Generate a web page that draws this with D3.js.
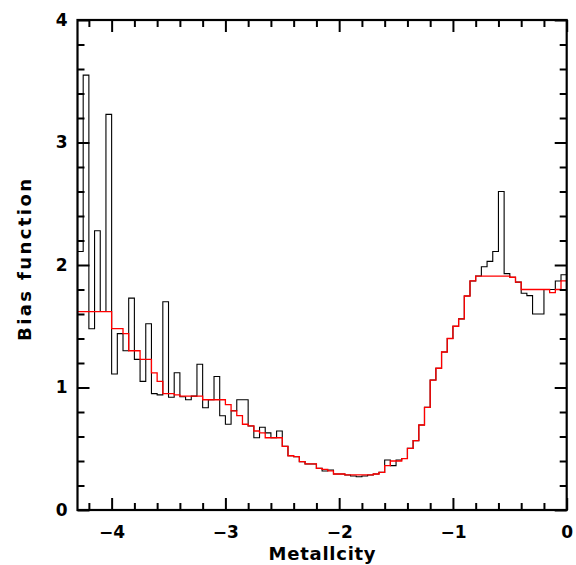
<!DOCTYPE html>
<html>
<head>
<meta charset="utf-8">
<script src="https://cdn.jsdelivr.net/npm/d3@7"></script>
<style>
  html, body { margin: 0; padding: 0; background: #fff; }
  svg { display: block; }
</style>
</head>
<body>
<svg id="chart" width="576" height="565"></svg>
<script>
// ---- data ----
const binStart = [
  -4.30,-4.25,-4.20,-4.15,-4.10,-4.05,-4.00,-3.95,-3.90,-3.85,
  -3.80,-3.75,-3.70,-3.65,-3.60,-3.55,-3.50,-3.45,-3.40,-3.35,
  -3.30,-3.25,-3.20,-3.15,-3.10,-3.05,-3.00,-2.95,-2.90,-2.85,
  -2.80,-2.75,-2.70,-2.65,-2.60,-2.55,-2.50,-2.45,-2.40,-2.35,
  -2.30,-2.25,-2.20,-2.15,-2.10,-2.05,-2.00,-1.95,-1.90,-1.85,
  -1.80,-1.75,-1.70,-1.65,-1.60,-1.55,-1.50,-1.45,-1.40,-1.35,
  -1.30,-1.25,-1.20,-1.15,-1.10,-1.05,-1.00,-0.95,-0.90,-0.85,
  -0.80,-0.75,-0.70,-0.65,-0.60,-0.55,-0.50,-0.45,-0.40,-0.35,
  -0.30,-0.25,-0.20,-0.15,-0.10,-0.05
];
const binEnd = 0;

const biasObserved = [
  2.11,3.55,1.48,2.28,1.62,3.23,1.11,1.44,1.30,1.73,
  1.23,1.05,1.52,0.95,0.94,1.70,0.92,1.12,0.925,0.90,
  0.93,1.19,0.835,0.90,1.09,0.77,0.70,0.81,0.90,0.90,
  0.686,0.59,0.675,0.63,0.59,0.645,0.52,0.443,0.435,0.395,
  0.376,0.376,0.34,0.318,0.327,0.294,0.294,0.286,0.278,0.272,
  0.278,0.286,0.294,0.307,0.408,0.362,0.408,0.42,0.503,0.566,
  0.694,0.838,1.061,1.157,1.29,1.40,1.50,1.56,1.747,1.87,
  1.91,1.986,2.03,2.11,2.60,1.93,1.90,1.86,1.77,1.75,
  1.60,1.60,1.80,1.80,1.87,1.92
];

const biasSmooth = [
  1.62,1.62,1.62,1.62,1.62,1.62,1.48,1.48,1.44,1.30,
  1.30,1.23,1.23,1.12,1.05,0.95,0.95,0.94,0.93,0.93,
  0.93,0.93,0.90,0.90,0.90,0.90,0.86,0.81,0.77,0.70,
  0.686,0.645,0.63,0.59,0.59,0.59,0.52,0.443,0.435,0.395,
  0.376,0.376,0.34,0.332,0.32,0.294,0.294,0.286,0.286,0.286,
  0.286,0.286,0.294,0.307,0.362,0.40,0.40,0.42,0.503,0.566,
  0.694,0.838,1.061,1.157,1.29,1.40,1.50,1.56,1.747,1.87,
  1.91,1.91,1.91,1.91,1.91,1.91,1.90,1.86,1.80,1.80,
  1.80,1.80,1.80,1.775,1.80,1.87
];

const xMajorTicks = [-4, -3, -2, -1, 0];
const xMinorTicks = [-4.2,-3.8,-3.6,-3.4,-3.2,-2.8,-2.6,-2.4,-2.2,-1.8,-1.6,-1.4,-1.2,-0.8,-0.6,-0.4,-0.2];
const yMajorTicks = [0, 1, 2, 3, 4];
const yMinorTicks = [0.2,0.4,0.6,0.8,1.2,1.4,1.6,1.8,2.2,2.4,2.6,2.8,3.2,3.4,3.6,3.8];
const xTitle = "Metallcity";
const yTitle = "Bias function";

// ---- layout ----
const L = 77.5, R = 566.7, T = 20, B = 510;
const svg = d3.select("#chart");
const x = d3.scaleLinear().domain([-4.3, 0]).range([L, R]);
const y = d3.scaleLinear().domain([0, 4]).range([B, T]);

const font = "'DejaVu Sans', sans-serif";
const fmt = d3.format("d");

// histogram step lines
function steps(vals) {
  const pts = binStart.map((s, i) => ({ x: s, v: vals[i] }));
  pts.push({ x: binEnd, v: vals[vals.length - 1] });
  return pts;
}
const line = d3.line().x(d => x(d.x)).y(d => y(d.v)).curve(d3.curveStepAfter);

svg.append("path").datum(steps(biasObserved))
  .attr("d", line).attr("fill", "none")
  .attr("stroke", "#000").attr("stroke-width", 1.1);

svg.append("path").datum(steps(biasSmooth))
  .attr("d", line).attr("fill", "none")
  .attr("stroke", "#ff0000").attr("stroke-width", 1.3);

// axes
function styleAxis(g) {
  g.select(".domain").remove();
  g.selectAll(".tick line").attr("stroke", "#000").attr("stroke-width", 2);
  g.selectAll(".tick text").attr("font-family", font).attr("font-weight", "bold")
    .attr("font-size", 17).attr("fill", "#000");
}
const MAJ = 12, MIN = 7;

// bottom
svg.append("g").attr("transform", `translate(0,${B})`)
  .call(d3.axisBottom(x).tickValues(xMajorTicks).tickSize(-MAJ).tickPadding(16).tickFormat(fmt))
  .call(styleAxis);
svg.append("g").attr("transform", `translate(0,${B})`)
  .call(d3.axisBottom(x).tickValues(xMinorTicks).tickSize(-MIN).tickFormat(""))
  .call(styleAxis);
// top
svg.append("g").attr("transform", `translate(0,${T})`)
  .call(d3.axisTop(x).tickValues(xMajorTicks).tickSize(-MAJ).tickFormat(""))
  .call(styleAxis);
svg.append("g").attr("transform", `translate(0,${T})`)
  .call(d3.axisTop(x).tickValues(xMinorTicks).tickSize(-MIN).tickFormat(""))
  .call(styleAxis);
// left
svg.append("g").attr("transform", `translate(${L},0)`)
  .call(d3.axisLeft(y).tickValues(yMajorTicks).tickSize(-MAJ).tickPadding(10).tickFormat(fmt))
  .call(styleAxis);
svg.append("g").attr("transform", `translate(${L},0)`)
  .call(d3.axisLeft(y).tickValues(yMinorTicks).tickSize(-MIN).tickFormat(""))
  .call(styleAxis);
// right
svg.append("g").attr("transform", `translate(${R},0)`)
  .call(d3.axisRight(y).tickValues(yMajorTicks).tickSize(-MAJ).tickFormat(""))
  .call(styleAxis);
svg.append("g").attr("transform", `translate(${R},0)`)
  .call(d3.axisRight(y).tickValues(yMinorTicks).tickSize(-MIN).tickFormat(""))
  .call(styleAxis);

// frame
svg.append("rect").attr("x", L).attr("y", T).attr("width", R - L).attr("height", B - T)
  .attr("fill", "none").attr("stroke", "#000").attr("stroke-width", 2.2);

// titles
svg.append("text").attr("x", (L + R) / 2).attr("y", 560)
  .attr("text-anchor", "middle").attr("font-family", font).attr("font-weight", "bold")
  .attr("font-size", 18).attr("textLength", 107).attr("lengthAdjust", "spacing")
  .text(xTitle);

svg.append("text").attr("transform", `translate(31,${260}) rotate(-90)`)
  .attr("text-anchor", "middle").attr("font-family", font).attr("font-weight", "bold")
  .attr("font-size", 18).attr("textLength", 162).attr("lengthAdjust", "spacing")
  .text(yTitle);
</script>
</body>
</html>
